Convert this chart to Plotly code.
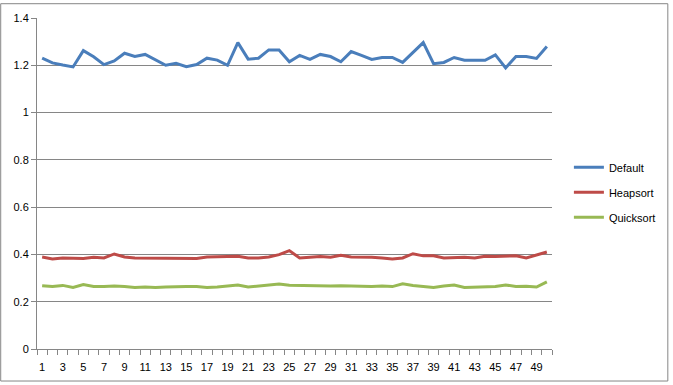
import plotly.graph_objects as go

runs = list(range(1, 51))
default_vals = [1.230, 1.210, 1.201, 1.193, 1.262, 1.236, 1.203, 1.218, 1.251, 1.237,
                1.246, 1.224, 1.200, 1.208, 1.194, 1.203, 1.230, 1.222, 1.200, 1.296,
                1.226, 1.230, 1.265, 1.265, 1.215, 1.242, 1.225, 1.246, 1.237, 1.215,
                1.258, 1.242, 1.225, 1.233, 1.233, 1.212, 1.253, 1.296, 1.207, 1.212,
                1.233, 1.221, 1.221, 1.221, 1.244, 1.189, 1.237, 1.237, 1.229, 1.279]
heapsort_vals = [0.389, 0.381, 0.385, 0.383, 0.383, 0.388, 0.385, 0.402, 0.389, 0.385,
                 0.385, 0.383, 0.383, 0.383, 0.385, 0.383, 0.389, 0.389, 0.389, 0.392,
                 0.385, 0.385, 0.389, 0.399, 0.416, 0.385, 0.388, 0.391, 0.388, 0.396,
                 0.389, 0.389, 0.388, 0.385, 0.381, 0.385, 0.403, 0.394, 0.394, 0.385,
                 0.388, 0.388, 0.385, 0.392, 0.391, 0.394, 0.394, 0.385, 0.396, 0.410]
quicksort_vals = [0.268, 0.264, 0.269, 0.260, 0.273, 0.264, 0.264, 0.266, 0.264, 0.260,
                  0.262, 0.260, 0.262, 0.264, 0.264, 0.264, 0.260, 0.262, 0.266, 0.271,
                  0.262, 0.266, 0.271, 0.275, 0.270, 0.269, 0.266, 0.264, 0.266, 0.268,
                  0.268, 0.265, 0.264, 0.266, 0.264, 0.276, 0.269, 0.266, 0.260, 0.266,
                  0.271, 0.260, 0.262, 0.264, 0.264, 0.271, 0.264, 0.265, 0.262, 0.284]
x_tick_labels = [str(v) for v in range(1, 51, 2)]

series = [("Default", default_vals, "#4A7EBB"),
          ("Heapsort", heapsort_vals, "#BE4B48"),
          ("Quicksort", quicksort_vals, "#98B954")]

fig = go.Figure()
for name, vals, color in series:
    fig.add_trace(go.Scatter(x=runs, y=vals, mode="lines", name=name, legendgroup=name,
                             line=dict(color=color, width=3)))

axis_color = "#868686"
W, H = 673, 385
ml, mr, mt, mb = 37, 118, 15, 34
pw, ph = W - ml - mr, H - mt - mb

fig.update_layout(
    width=W, height=H,
    margin=dict(l=ml, r=mr, t=mt, b=mb),
    paper_bgcolor="white", plot_bgcolor="white",
    font=dict(family="Liberation Sans, Arial, sans-serif", size=11, color="black"),
    showlegend=True,
    legend=dict(x=(572 - ml) / pw, y=(H - mb - 192) / ph, xanchor="left", yanchor="middle",
                bgcolor="rgba(0,0,0,0)", font=dict(size=11), tracegroupgap=6,
                itemwidth=30),
    xaxis=dict(range=[0.5, 50.5], tickmode="array",
               tickvals=list(range(1, 51, 2)), ticktext=x_tick_labels,
               ticks="", showgrid=False, zeroline=False,
               showline=True, linecolor=axis_color, linewidth=1,
               ticklabelstandoff=8,
               minor=dict(tickmode="array", tickvals=[v + 0.5 for v in range(0, 51)],
                          ticks="outside", ticklen=5, tickcolor=axis_color, showgrid=False),
               tickfont=dict(size=11)),
    yaxis=dict(range=[0, 1.4], tickmode="linear", tick0=0, dtick=0.2,
               showgrid=True, gridcolor=axis_color, gridwidth=1,
               zeroline=False, showline=True, linecolor=axis_color, linewidth=1,
               ticks="outside", ticklen=5, tickcolor=axis_color,
               tickfont=dict(size=11)),
)

fig.add_shape(type="rect", xref="paper", yref="paper",
              x0=(0.5 - ml) / pw, x1=(W - 1.5 - ml) / pw,
              y0=(H - mb - (H - 1.5)) / ph, y1=(H - mb - 0.5) / ph,
              line=dict(color=axis_color, width=1), layer="below")

fig.write_html("out.html", config={"displayModeBar": False},
               post_script="document.body.style.margin='0';document.body.style.overflow='hidden';")
